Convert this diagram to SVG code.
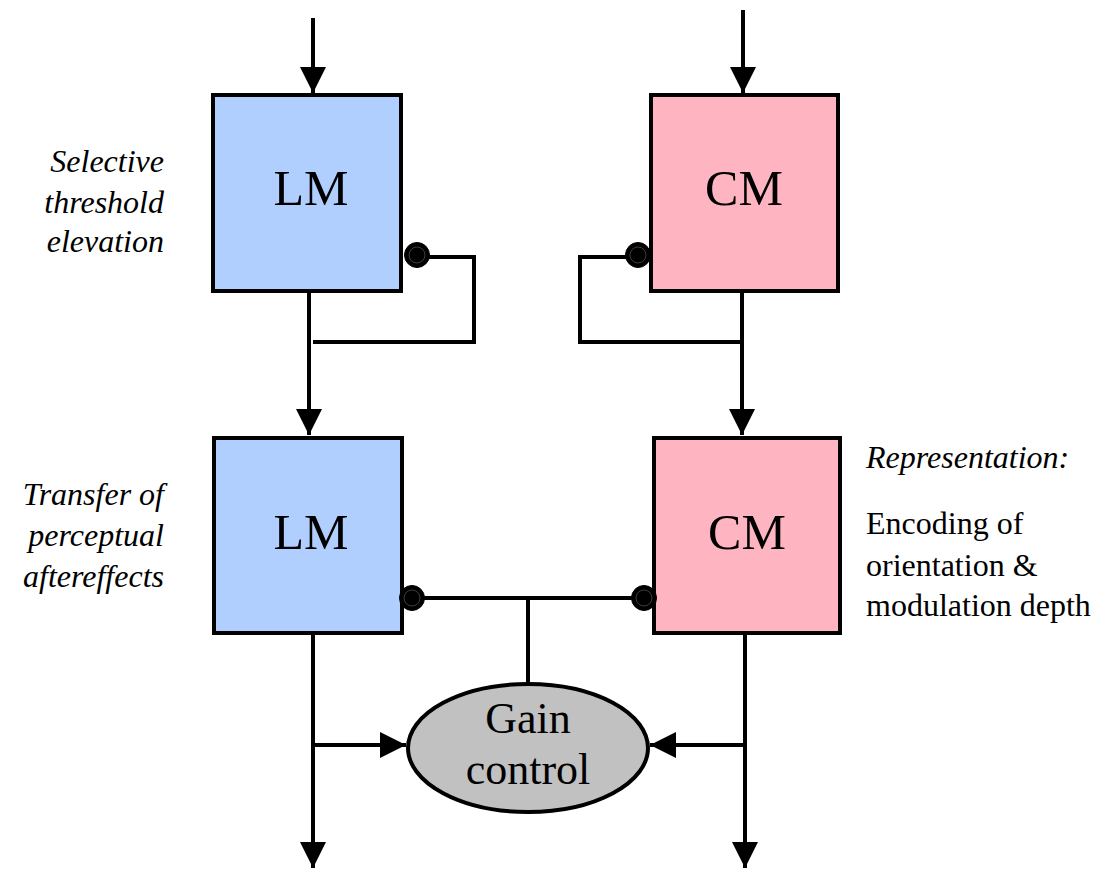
<svg xmlns="http://www.w3.org/2000/svg" width="1112" height="870" viewBox="0 0 1112 870">
<defs>
<marker id="arr" viewBox="0 0 10 10" refX="10" refY="5" markerWidth="6.5" markerHeight="6.5" markerUnits="strokeWidth" orient="auto"><path d="M0,0 L10,5 L0,10 Z" fill="#000"/></marker>
<style>
.box{stroke:#000;stroke-width:4}
.lm{fill:#b0cfff}
.cm{fill:#ffb5c1}
.ln{fill:none;stroke:#000;stroke-width:4}
.lbl{fill:#000}
.it{font-style:italic;font-size:32px}
.dot{fill:#000;stroke:#000;stroke-width:1}
.dotin{fill:none;stroke:#666;stroke-width:0.6}
</style>
</defs>
<rect width="1112" height="870" fill="#fff"/>
<g id="connectors">
<line class="ln" x1="313" y1="18" x2="313" y2="93" marker-end="url(#arr)"/>
<line class="ln" x1="743" y1="10" x2="743" y2="93" marker-end="url(#arr)"/>
<line class="ln" x1="309" y1="291" x2="309" y2="435" marker-end="url(#arr)"/>
<polyline class="ln" points="428,257 474,257 474,342 313,342"/>
<line class="ln" x1="742" y1="291" x2="742" y2="435" marker-end="url(#arr)"/>
<polyline class="ln" points="626,257 580,257 580,342 742,342"/>
<line class="ln" x1="412" y1="598" x2="644" y2="598"/>
<line class="ln" x1="528" y1="598" x2="528" y2="684"/>
<line class="ln" x1="313" y1="634" x2="313" y2="868" marker-end="url(#arr)"/>
<line class="ln" x1="745" y1="634" x2="745" y2="868" marker-end="url(#arr)"/>
<line class="ln" x1="313" y1="745" x2="406" y2="745" marker-end="url(#arr)"/>
<line class="ln" x1="745" y1="745" x2="650" y2="745" marker-end="url(#arr)"/>
</g>
<g font-family="Liberation Serif, Times New Roman, serif">
<g id="lm1">
<rect class="box lm" x="213" y="95" width="188" height="196"/>
<text class="lbl" x="311" y="205" font-size="50" text-anchor="middle">LM</text>
<circle class="dot" cx="417" cy="255" r="12.5"/><circle class="dotin" cx="417" cy="255" r="8"/>
</g>
<g id="cm1">
<rect class="box cm" x="651" y="95" width="187" height="196"/>
<text class="lbl" x="744" y="205" font-size="50" text-anchor="middle">CM</text>
<circle class="dot" cx="638" cy="255" r="12.5"/><circle class="dotin" cx="638" cy="255" r="8"/>
</g>
<g id="lm2">
<rect class="box lm" x="214" y="438" width="188" height="195"/>
<text class="lbl" x="311" y="549" font-size="50" text-anchor="middle">LM</text>
<circle class="dot" cx="412" cy="598" r="12.5"/><circle class="dotin" cx="412" cy="598" r="8"/>
</g>
<g id="cm2">
<rect class="box cm" x="654" y="438" width="186" height="195"/>
<text class="lbl" x="747" y="549" font-size="50" text-anchor="middle">CM</text>
<circle class="dot" cx="644" cy="598" r="12.5"/><circle class="dotin" cx="644" cy="598" r="8"/>
</g>
<g id="gain">
<ellipse cx="528" cy="748" rx="120" ry="64" fill="#c0c1c0" stroke="#000" stroke-width="4"/>
<text class="lbl" x="528" y="733" font-size="44" text-anchor="middle">Gain</text>
<text class="lbl" x="528" y="784" font-size="44" text-anchor="middle">control</text>
</g>
<g id="note-threshold">
<text class="lbl it" text-anchor="end" x="164" y="172">Selective</text>
<text class="lbl it" text-anchor="end" x="164" y="213">threshold</text>
<text class="lbl it" text-anchor="end" x="164" y="252">elevation</text>
</g>
<g id="note-transfer">
<text class="lbl it" text-anchor="end" x="164" y="505">Transfer of</text>
<text class="lbl it" text-anchor="end" x="164" y="546">perceptual</text>
<text class="lbl it" text-anchor="end" x="164" y="587">aftereffects</text>
</g>
<g id="note-representation">
<text class="lbl it" x="866" y="468">Representation:</text>
<text class="lbl" font-size="32" x="866" y="534">Encoding of</text>
<text class="lbl" font-size="32" x="866" y="576">orientation &amp;</text>
<text class="lbl" font-size="32" x="866" y="616">modulation depth</text>
</g>
</g>
</svg>
